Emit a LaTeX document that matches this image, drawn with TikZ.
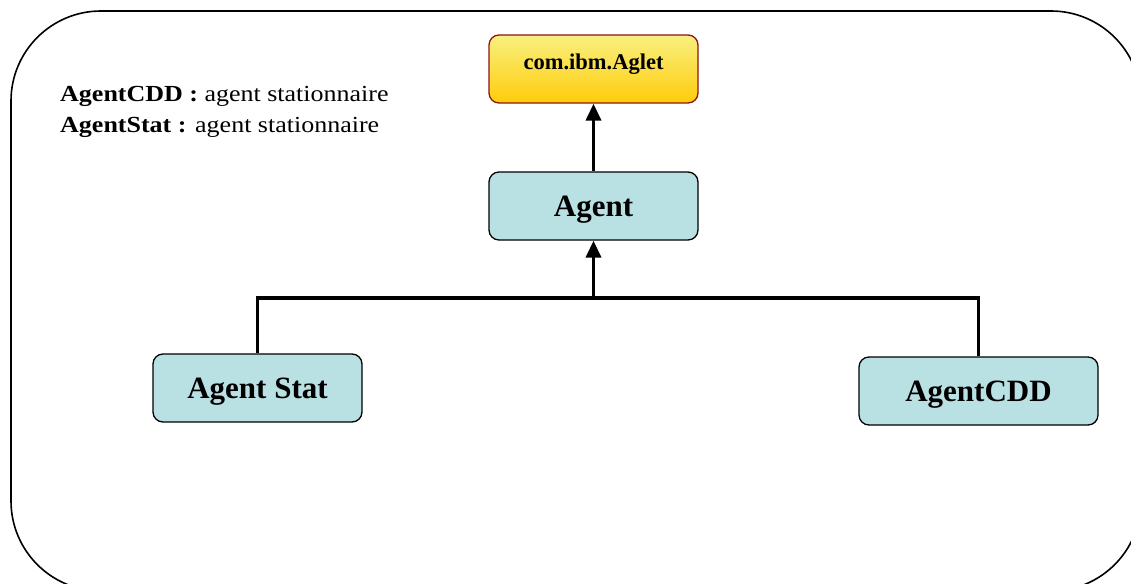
\documentclass[tikz,border=0pt]{standalone}
\usepackage{fontspec}
\setmainfont{Liberation Serif}
\usetikzlibrary{arrows.meta}
\definecolor{boxblue}{RGB}{185,224,227}
\definecolor{agletTop}{RGB}{248,240,128}
\definecolor{agletBot}{RGB}{255,204,10}
\definecolor{agletLine}{RGB}{140,20,20}
\tikzset{
  classbox/.style={draw=black, line width=1.3pt, fill=boxblue, rounded corners=10pt,
    minimum width=209pt, minimum height=68pt, inner sep=0pt,
    text height=26pt, text depth=6pt,
    font=\fontsize{31}{34}\selectfont\bfseries},
  rootbox/.style={draw=agletLine, line width=1.3pt, rounded corners=10pt,
    top color=agletTop, bottom color=agletBot,
    minimum width=209pt, minimum height=68pt, inner sep=0pt,
    text height=15pt, text depth=14pt,
    font=\fontsize{22.5}{26}\selectfont\bfseries},
  conn/.style={line width=3.6pt, line join=miter},
  inherit/.style={conn, -{Triangle[length=17pt,width=15pt]}},
  legend/.style={anchor=base west, inner sep=0pt,
    font=\fontsize{23}{26}\selectfont}
}
\begin{document}
\begin{tikzpicture}[x=1pt, y=-1pt]
  \useasboundingbox (0,0) rectangle (1131,583);
  \begin{scope}
    \clip (0,0) rectangle (1131,583);
    % enclosing frame
    \draw[line width=1.6pt, rounded corners=90pt] (11,11) rectangle (1141,591);
  \end{scope}

  % legend
  \node[legend] (leg1) at (60,102) {\scalebox{1.13}[1]{\textbf{AgentCDD :} agent stationnaire}};
  \node[legend] (leg2) at (60,132) {\scalebox{1.13}[1]{\textbf{AgentStat :} agent stationnaire}};

  % class boxes
  \node[rootbox]  (aglet) at (593.5,69)  {com.ibm.Aglet};
  \node[classbox] (agent) at (593.5,206) {Agent};
  \node[classbox] (stat)  at (257.5,388) {Agent Stat};
  \node[classbox, minimum width=239pt] (cdd) at (978.5,391) {AgentCDD};

  % inheritance links
  \coordinate (join) at (593.5,298);
  \draw[inherit] (agent.north) -- (aglet.south);
  \draw[conn] (stat.north) |- (join) -| (cdd.north);
  \draw[inherit] (join) -- (agent.south);
\end{tikzpicture}
\end{document}
